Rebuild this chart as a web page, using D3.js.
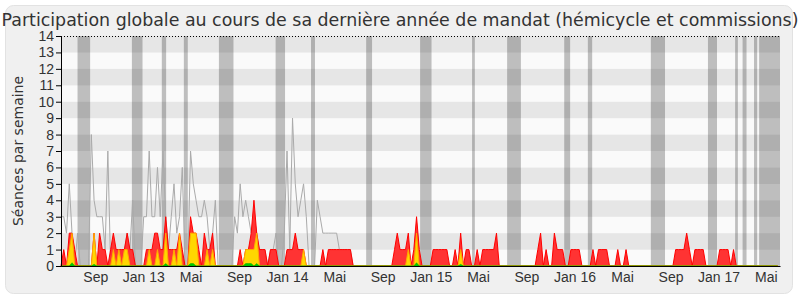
<!DOCTYPE html>
<html>
<head>
<meta charset="utf-8">
<script src="https://d3js.org/d3.v7.min.js"></script>
<style>
  body { margin: 0; background: #fff; }
  svg { display: block; font-family: "DejaVu Sans", sans-serif; }
</style>
</head>
<body>
<div id="chart"></div>
<script>
// one value per week, first week starts on firstWeek
const firstWeek = "2012-06-06";
const lastDay = "2017-06-06";

// red: présences
const presences = [
  0,1,0,2,2,1,0,0,0,0,
  0,0,2,0,2,1,1,0,1,2,
  1,1,1,1,2,1,1,0,0,0,
  0,1,1,1,2,2,1,1,3,1,
  1,1,1,2,1,0,0,3,2,2,
  1,0,2,1,1,2,0,0,0,0,
  0,0,0,0,0,1,0,1,1,2,
  4,2,1,1,1,0,1,1,1,0,
  0,0,1,1,1,2,1,1,1,0,
  0,0,0,0,0,1,0,1,1,1,
  1,1,1,1,1,1,0,0,0,0,
  0,0,0,0,0,0,0,0,0,0,
  0,1,2,1,1,1,2,0,1,3,
  1,0,0,0,0,1,1,1,1,1,
  1,0,0,1,0,2,0,1,1,0,
  0,1,0,1,1,1,1,1,2,0,
  0,0,0,0,0,0,0,0,0,0,
  0,0,0,1,2,0,1,0,0,2,
  1,1,1,0,0,1,1,1,1,0,
  0,0,0,1,0,1,1,1,1,0,
  0,0,1,0,0,1,0,0,0,0,
  0,0,0,0,0,0,0,0,0,0,
  0,0,0,1,1,1,1,2,1,0,
  1,1,1,1,0,0,0,0,0,1,
  1,1,1,0,1,0,0,0,0,0,
  0,0,0,0,0,0,0,0,0,0,
  0
];

// yellow: participations
const participations = [
  0,0,0,1,2,0,0,0,0,0,
  0,0,2,0,0,0,0,0,0,1,
  0,1,0,1,1,0,0,0,0,0,
  0,0,1,0,0,1,0,0,2,0,
  0,1,0,2,0,0,0,2,2,2,
  0,0,0,1,0,1,0,0,0,0,
  0,0,0,0,0,0,0,1,1,1,
  1,2,0,0,0,0,0,0,0,0,
  0,0,0,0,0,0,0,0,1,0,
  0,0,0,0,0,0,0,0,0,0,
  0,0,0,0,0,0,0,0,0,0,
  0,0,0,0,0,0,0,0,0,0,
  0,0,0,0,0,0,1,0,0,2,
  0,0,0,0,0,0,0,0,0,0,
  0,0,0,0,0,1,0,0,0,0,
  0,0,0,0,0,0,0,0,0,0,
  0,0,0,0,0,0,0,0,0,0,
  0,0,0,0,0,0,0,0,0,0,
  0,0,0,0,0,0,0,0,0,0,
  0,0,0,0,0,0,0,0,0,0,
  0,0,0,0,0,0,0,0,0,0,
  0,0,0,0,0,0,0,0,0,0,
  0,0,0,0,0,0,0,0,0,0,
  0,0,0,0,0,0,0,0,0,0,
  0,0,0,0,0,0,0,0,0,0,
  0,0,0,0,0,0,0,0,0,0,
  0
];

// green: interventions
const interventions = [
  0,0,0,0,0.2,0,0,0,0,0,
  0,0,0.1,0,0,0,0,0,0,0,
  0,0,0,0,0,0,0,0,0,0,
  0,0,0,0,0,0,0,0,0.15,0,
  0,0,0,0,0,0,0,0.15,0.15,0,
  0,0,0,0,0,0,0,0,0,0,
  0,0,0,0,0,0,0,0.15,0.15,0.15,
  0,0.15,0,0,0,0,0,0,0,0,
  0,0,0,0,0,0,0,0,0,0,
  0,0,0,0,0,0,0,0,0,0,
  0,0,0,0,0,0,0,0,0,0,
  0,0,0,0,0,0,0,0,0,0,
  0,0,0,0,0,0,0,0,0,0.2,
  0,0,0,0,0,0,0,0,0,0,
  0,0,0,0,0,0.1,0,0,0,0,
  0,0,0,0,0,0,0,0,0,0,
  0,0,0,0,0,0,0,0,0,0,
  0,0,0,0,0,0,0,0,0,0,
  0,0,0,0,0,0,0,0,0,0,
  0,0,0,0,0,0,0,0,0,0,
  0,0,0,0,0,0,0,0,0,0,
  0,0,0,0,0,0,0,0,0,0,
  0,0,0,0,0,0,0,0,0,0,
  0,0,0,0,0,0,0,0,0,0,
  0,0,0,0,0,0,0,0,0,0,
  0,0,0,0,0,0,0,0,0,0,
  0
];

// grey line: médiane des députés
const mediane = [
  3,3,2,5,2,0,2,0,0,0,
  0,8,4,3,3,3,1,7,0,1,
  1,1,1,1,2,1,4,0,0,0,
  3,3,7,3,3,6,3,7,3,1,
  3,5,2,3,6,0,0,7,5,4,
  3,3,4,3,1,2,4,0,0,0,
  0,0,0,3,2,5,3,4,3,2,
  3,2,1,1,1,0,1,1,2,0,
  0,2,7,1,9,5,3,4,5,3,
  0,0,0,4,3,2,2,2,2,2,
  2,1,1,1,1,1,0,0,0,0,
  0,0,0,0,0,0,0,0,0,0,
  0,0,0,0,0,0,0,0,0,0,
  0,0,0,0,0,0,0,0,0,0,
  0,0,0,0,0,0,0,0,0,0,
  0,0,0,0,0,0,0,0,0,0,
  0,0,0,0,0,0,0,0,0,0,
  0,0,0,0,0,0,0,0,0,0,
  0,0,0,0,0,0,0,0,0,0,
  0,0,0,0,0,0,0,0,0,0,
  0,0,0,0,0,0,0,0,0,0,
  0,0,0,0,0,0,0,0,0,0,
  0,0,0,0,0,0,0,0,0,0,
  0,0,0,0,0,0,0,0,0,0,
  0,0,0,0,0,0,0,0,0,0,
  0,0,0,0,0,0,0,0,0,0,
  0
];

// vacances parlementaires (grey columns)
const vacances = [
  ["2012-07-18", "2012-08-19"], ["2012-12-03", "2012-12-30"],
  ["2013-02-17", "2013-02-28"], ["2013-04-14", "2013-04-24"],
  ["2013-07-12", "2013-08-18"], ["2013-12-03", "2013-12-27"],
  ["2014-03-03", "2014-03-13"], ["2014-07-21", "2014-08-05"],
  ["2014-12-05", "2015-01-03"], ["2015-04-16", "2015-04-23"],
  ["2015-07-14", "2015-08-18"], ["2015-12-06", "2015-12-21"],
  ["2016-02-04", "2016-02-15"], ["2016-07-13", "2016-08-18"],
  ["2016-12-05", "2016-12-28"], ["2017-02-12", "2017-02-19"],
  ["2017-03-03", "2017-03-13"], ["2017-04-01", "2017-04-09"],
  ["2017-04-14", "2017-06-06"]
];

const tickDates = [
  "2012-09-01", "2013-01-01", "2013-05-01", "2013-09-01", "2014-01-01",
  "2014-05-01", "2014-09-01", "2015-01-01", "2015-05-01", "2015-09-01",
  "2016-01-01", "2016-05-01", "2016-09-01", "2017-01-01", "2017-05-01"
];
const tickLabels = [
  "Sep", "Jan 13", "Mai", "Sep", "Jan 14", "Mai", "Sep", "Jan 15", "Mai",
  "Sep", "Jan 16", "Mai", "Sep", "Jan 17", "Mai"
];

const titre = "Participation globale au cours de sa dernière année de mandat (hémicycle et commissions)";
const yLabel = "Séances par semaine";

const parse = d3.timeParse("%Y-%m-%d");

drawChart();

function drawChart() {
    const width = 800;
    const height = 300;
    const margin = { top: 36, right: 20, bottom: 34, left: 61 };
    const w = width - margin.left - margin.right;
    const h = height - margin.top - margin.bottom;

    const svgRoot = d3.select("#chart").append("svg")
        .attr("width", width)
        .attr("height", height);

    svgRoot.append("rect")
        .attr("x", 5.5).attr("y", 5.5)
        .attr("width", 787).attr("height", 288)
        .attr("rx", 8)
        .attr("fill", "#f0f0f0")
        .attr("stroke", "#e2e2e2");

    svgRoot.append("text")
        .attr("x", width / 2)
        .attr("y", 25.5)
        .attr("text-anchor", "middle")
        .style("font-size", "17.4px")
        .style("fill", "#333")
        .text(titre);

    svgRoot.append("text")
        .attr("transform", `translate(23,${margin.top + h / 2}) rotate(-90)`)
        .attr("text-anchor", "middle")
        .style("font-size", "14px")
        .style("fill", "#333")
        .text(yLabel);

    const svg = svgRoot.append("g")
        .attr("transform", `translate(${margin.left},${margin.top})`);

    const x = d3.scaleTime()
        .domain([parse(firstWeek), parse(lastDay)])
        .range([0, w]);
    const y = d3.scaleLinear()
        .domain([0, 14])
        .range([h, 0]);

    const start = parse(firstWeek);
    const weeks = presences.map((v, i) => d3.timeDay.offset(start, 7 * i));

    // alternating rows
    svg.append("g")
        .selectAll("rect")
        .data(d3.range(0, 14))
        .enter()
        .append("rect")
        .attr("x", 0)
        .attr("width", w)
        .attr("y", d => y(d + 1))
        .attr("height", d => y(d) - y(d + 1))
        .attr("fill", d => d % 2 ? "#e6e6e6" : "#fafafa");

    // vacances
    svg.append("g")
        .selectAll("rect")
        .data(vacances)
        .enter()
        .append("rect")
        .attr("x", d => x(parse(d[0])))
        .attr("width", d => x(parse(d[1])) - x(parse(d[0])))
        .attr("y", 0)
        .attr("height", h)
        .attr("fill", "#000")
        .attr("opacity", 0.24);

    // médiane
    svg.append("path")
        .datum(mediane)
        .attr("fill", "none")
        .attr("stroke", "#aaa")
        .attr("stroke-width", 1)
        .attr("d", d3.line().x((d, i) => x(weeks[i])).y(d => y(d)));

    const area = d3.area()
        .x((d, i) => x(weeks[i]))
        .y0(y(0))
        .y1(d => y(d));

    svg.append("path")
        .datum(presences)
        .attr("fill", "#ff3333")
        .attr("stroke", "#ff0000")
        .attr("stroke-width", 1)
        .attr("d", area);

    svg.append("path")
        .datum(participations)
        .attr("fill", "#ffd700")
        .attr("stroke", "#ffaa00")
        .attr("stroke-width", 1)
        .attr("d", area);

    svg.append("path")
        .datum(interventions)
        .attr("fill", "#00cc00")
        .attr("stroke", "#00aa00")
        .attr("stroke-width", 0.5)
        .attr("d", area);

    // dotted top line
    svg.append("line")
        .attr("x1", 0).attr("x2", w)
        .attr("y1", y(14) + 0.5).attr("y2", y(14) + 0.5)
        .attr("stroke", "#000")
        .attr("stroke-dasharray", "1,2");

    const yAxis = svg.append("g")
        .call(d3.axisLeft(y).ticks(14).tickSizeOuter(0).tickSize(5).tickPadding(2));
    yAxis.selectAll("text").style("font-size", "14px").style("fill", "#333");
    yAxis.selectAll("line, path").attr("stroke", "#000");

    const xAxis = svg.append("g")
        .attr("transform", `translate(0,${h})`)
        .call(d3.axisBottom(x)
            .tickValues(tickDates.map(parse))
            .tickFormat((d, i) => tickLabels[i])
            .tickSize(0)
            .tickPadding(6));
    xAxis.selectAll("text").style("font-size", "14px").style("fill", "#333");
    xAxis.selectAll("path").attr("stroke", "#000");
}
</script>
</body>
</html>
